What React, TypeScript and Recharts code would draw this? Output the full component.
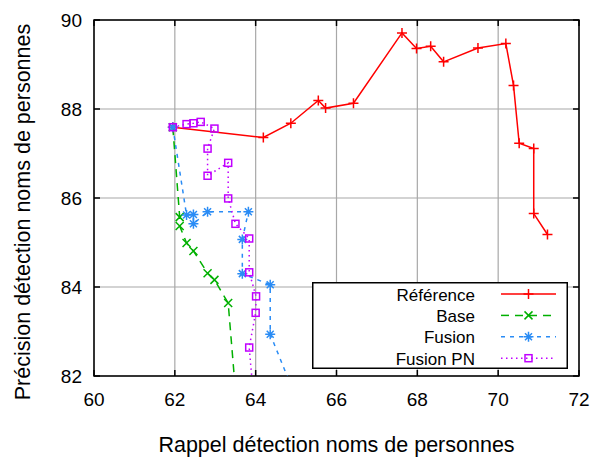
import { LineChart, Line, XAxis, YAxis, CartesianGrid, Legend, ReferenceArea } from "recharts";

// values
const refX = [61.95, 64.19, 64.87, 65.55, 65.73, 66.42, 67.62, 67.98, 68.33, 68.65, 69.5, 70.19, 70.38, 70.52, 70.88, 70.88, 71.22];
const refY = [87.59, 87.36, 87.68, 88.19, 88.02, 88.13, 89.71, 89.36, 89.41, 89.06, 89.37, 89.47, 88.53, 87.23, 87.11, 85.65, 85.18];

const baseX = [61.95, 62.12, 62.12, 62.29, 62.46, 62.81, 62.98, 63.32, 63.56];
const baseY = [87.59, 85.57, 85.37, 84.99, 84.81, 84.31, 84.16, 83.64, 81.0];

const fusionX = [61.95, 62.29, 62.46, 62.46, 62.81, 63.82, 63.67, 63.67, 64.36, 64.36, 65.0];
const fusionY = [87.59, 85.62, 85.63, 85.42, 85.69, 85.69, 85.07, 84.3, 84.05, 82.94, 81.5];

const pnX = [61.95, 62.29, 62.46, 62.64, 62.98, 62.81, 62.81, 63.32, 63.32, 63.5, 63.84, 63.84, 64.01, 64.0, 63.84, 63.95];
const pnY = [87.59, 87.66, 87.68, 87.71, 87.56, 87.11, 86.5, 86.79, 85.99, 85.42, 85.09, 84.33, 83.79, 83.42, 82.64, 81.5];

const xTicks = [60, 62, 64, 66, 68, 70, 72];
const yTicks = [82, 84, 86, 88, 90];

const seriesNames = ["Référence", "Base", "Fusion", "Fusion PN"];

const toPoints = (xs: number[], ys: number[]) => xs.map((x, i) => ({ x, y: ys[i] }));

const FONT = '"Liberation Sans", Arial, Helvetica, sans-serif';
const PLOT_TOP = 20;
const PLOT_BOTTOM = 376;
const PLOT_LEFT = 94;
const PLOT_RIGHT = 579;

const RED = "#ff0000";
const GREEN = "#00b000";
const BLUE = "#2a8cf5";
const MAGENTA = "#c000ff";

// gnuplot-like point markers
const Plus = ({ cx, cy, color }: any) => (
  <path d={`M${cx - 5},${cy}H${cx + 5}M${cx},${cy - 5}V${cy + 5}`} stroke={color} strokeWidth={1.5} fill="none" />
);
const Cross = ({ cx, cy, color }: any) => (
  <path d={`M${cx - 4},${cy - 4}L${cx + 4},${cy + 4}M${cx - 4},${cy + 4}L${cx + 4},${cy - 4}`} stroke={color} strokeWidth={1.5} fill="none" />
);
const Star = ({ cx, cy, color }: any) => (
  <path
    d={`M${cx - 5},${cy}H${cx + 5}M${cx},${cy - 5}V${cy + 5}M${cx - 3.5},${cy - 3.5}L${cx + 3.5},${cy + 3.5}M${cx - 3.5},${cy + 3.5}L${cx + 3.5},${cy - 3.5}`}
    stroke={color}
    strokeWidth={1.5}
    fill="none"
  />
);
const Square = ({ cx, cy, color }: any) => (
  <rect x={cx - 3.5} y={cy - 3.5} width={7} height={7} stroke={color} strokeWidth={1.5} fill="none" />
);

const markers = [Plus, Cross, Star, Square];
const colors = [RED, GREEN, BLUE, MAGENTA];
const dashes = ["", "8 6", "4 5", "1.5 3.5"];

const dot = (M: any, color: string) => (props: any) => {
  if (props.cx == null || props.cy == null) return <g key={props.key} />;
  return (
    <g key={props.key}>
      <M cx={props.cx} cy={props.cy} color={color} />
    </g>
  );
};

const XTick = ({ x, payload }: any) => (
  <g>
    <line x1={x} x2={x} y1={PLOT_BOTTOM} y2={PLOT_BOTTOM - 6} stroke="#000" strokeWidth={1.5} />
    <line x1={x} x2={x} y1={PLOT_TOP} y2={PLOT_TOP + 6} stroke="#000" strokeWidth={1.5} />
    <text x={x} y={PLOT_BOTTOM + 30} textAnchor="middle" fontSize={19} fontFamily={FONT} fill="#000">
      {payload.value}
    </text>
  </g>
);

const YTick = ({ y, payload }: any) => (
  <g>
    <line x1={PLOT_LEFT} x2={PLOT_LEFT + 6} y1={y} y2={y} stroke="#000" strokeWidth={1.5} />
    <line x1={PLOT_RIGHT} x2={PLOT_RIGHT - 6} y1={y} y2={y} stroke="#000" strokeWidth={1.5} />
    <text x={PLOT_LEFT - 12} y={y + 7} textAnchor="end" fontSize={19} fontFamily={FONT} fill="#000">
      {payload.value}
    </text>
  </g>
);

const renderLegend = () => (
  <svg width={256} height={87} style={{ display: "block", background: "#fff" }}>
    <rect x={0.75} y={0.75} width={254.5} height={85.5} fill="#fff" stroke="#000" strokeWidth={1.5} />
    {seriesNames.map((name, i) => {
      const cy = 12 + i * 21.4;
      const M = markers[i];
      return (
        <g key={name}>
          <text x={163} y={cy + 6.5} textAnchor="end" fontSize={17} fontFamily={FONT} fill="#000">
            {name}
          </text>
          <line x1={189} x2={244} y1={cy} y2={cy} stroke={colors[i]} strokeWidth={1.5} strokeDasharray={dashes[i] || undefined} />
          <M cx={216.5} cy={cy} color={colors[i]} />
        </g>
      );
    })}
  </svg>
);

const seriesData = [toPoints(refX, refY), toPoints(baseX, baseY), toPoints(fusionX, fusionY), toPoints(pnX, pnY)];

export default function App() {
  return (
    <div style={{ position: "absolute", left: 0, top: 0, width: 595, height: 458, background: "#fff" }}>
      <LineChart width={595} height={458} margin={{ top: PLOT_TOP, right: 595 - PLOT_RIGHT, bottom: 0, left: 0 }}>
        <CartesianGrid stroke="#a8a8a8" strokeWidth={1.2} />
        <XAxis
          dataKey="x"
          type="number"
          domain={[60, 72]}
          ticks={xTicks}
          allowDataOverflow
          height={458 - PLOT_BOTTOM}
          axisLine={false}
          tickLine={false}
          tick={<XTick />}
          label={{ value: "Rappel détection noms de personnes", position: "insideBottom", offset: 6, fontSize: 21.5, fontFamily: FONT, fill: "#000" }}
        />
        <YAxis
          dataKey="y"
          type="number"
          domain={[82, 90]}
          ticks={yTicks}
          allowDataOverflow
          width={PLOT_LEFT}
          axisLine={false}
          tickLine={false}
          tick={<YTick />}
          label={{ value: "Précision détection noms de personnes", angle: -90, position: "insideLeft", offset: 22, dy: 14, fontSize: 21.5, fontFamily: FONT, fill: "#000", style: { textAnchor: "middle" } }}
        />
        {seriesData.map((data, i) => (
          <Line
            key={seriesNames[i]}
            name={seriesNames[i]}
            data={data}
            dataKey="y"
            type="linear"
            stroke={colors[i]}
            strokeWidth={1.5}
            strokeDasharray={dashes[i] || undefined}
            dot={dot(markers[i], colors[i])}
            activeDot={false}
            isAnimationActive={false}
          />
        ))}
        <ReferenceArea x1={60} x2={72} y1={82} y2={90} fill="none" stroke="#000" strokeWidth={1.5} ifOverflow="visible" />
        <Legend
          content={renderLegend}
          layout="vertical"
          align="center"
          verticalAlign="middle"
          wrapperStyle={{ left: 312, top: 282, width: 256, height: 87 }}
        />
      </LineChart>
    </div>
  );
}
